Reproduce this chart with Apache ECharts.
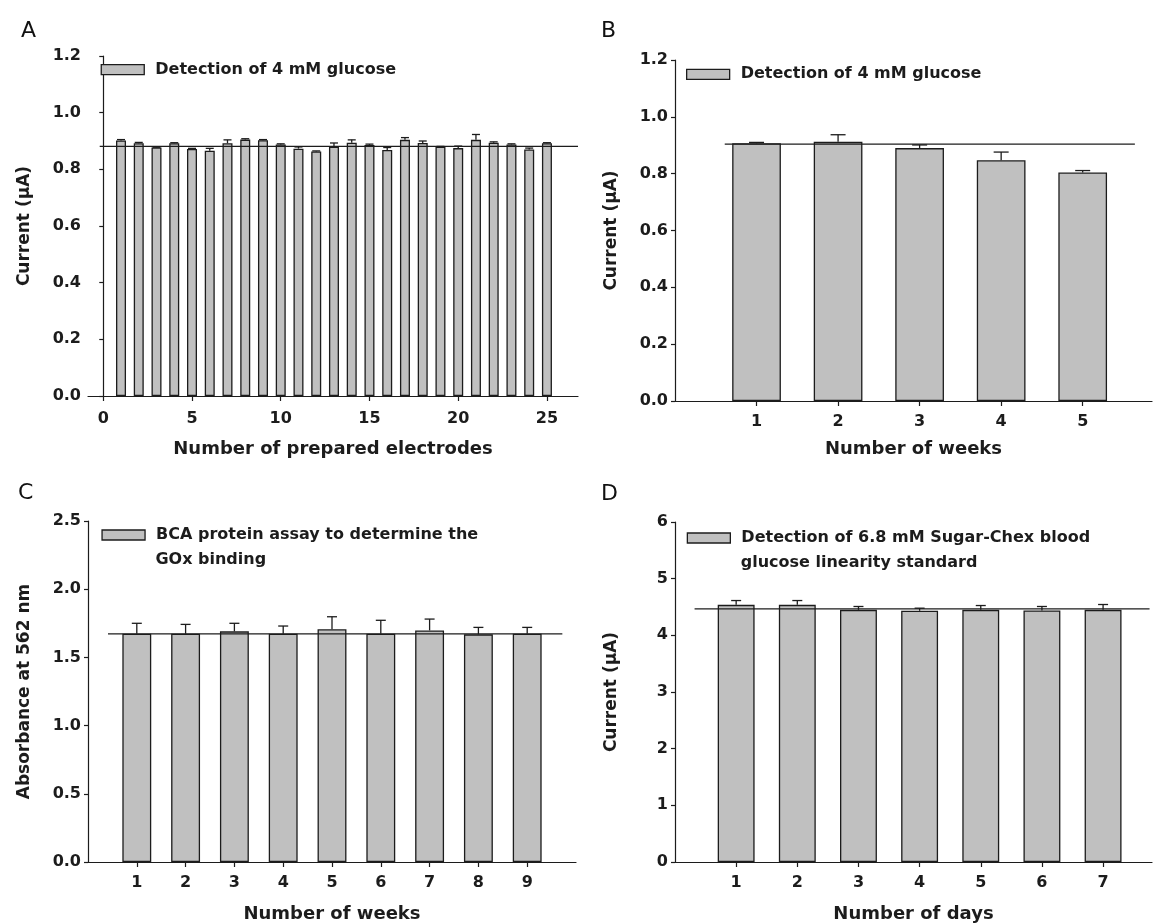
<!DOCTYPE html>
<html>
<head>
<meta charset="utf-8">
<script src="https://cdn.jsdelivr.net/npm/echarts@6/dist/echarts.min.js"></script>
<style>
  html, body { margin: 0; padding: 0; background: #fff; }
  #main { width: 1153px; height: 924px; }
</style>
</head>
<body>
<div id="main"></div>
<script>
// A - reproducibility over prepared electrodes
var electrodes = [1, 2, 3, 4, 5, 6, 7, 8, 9, 10, 11, 12, 13, 14, 15, 16, 17, 18, 19, 20, 21, 22, 23, 24, 25];
var electrodeMean = [0.902, 0.892, 0.877, 0.892, 0.872, 0.866, 0.892, 0.905, 0.903, 0.888, 0.873, 0.863, 0.880,
                     0.894, 0.886, 0.868, 0.904, 0.893, 0.880, 0.875, 0.904, 0.894, 0.888, 0.870, 0.892];
var electrodeErr = [0.003, 0.003, 0.001, 0.002, 0.002, 0.008, 0.012, 0.003, 0.002, 0.002, 0.006, 0.002, 0.013,
                    0.010, 0.003, 0.009, 0.008, 0.007, 0.001, 0.007, 0.019, 0.003, 0.002, 0.005, 0.002];
var electrodeRef = 0.881;
var electrodeTicks = [0, 5, 10, 15, 20, 25];

// B - stability over weeks
var weeks = [1, 2, 3, 4, 5];
var weekMean = [0.907, 0.912, 0.890, 0.847, 0.804];
var weekErr = [0.003, 0.025, 0.011, 0.029, 0.007];
var weekRef = 0.904;

// C - BCA protein assay
var bcaWeeks = [1, 2, 3, 4, 5, 6, 7, 8, 9];
var bcaMean = [1.673, 1.673, 1.691, 1.673, 1.706, 1.673, 1.698, 1.669, 1.673];
var bcaErr = [0.077, 0.069, 0.059, 0.057, 0.092, 0.099, 0.083, 0.051, 0.047];
var bcaRef = 1.673;

// D - Sugar-Chex standard over days
var days = [1, 2, 3, 4, 5, 6, 7];
var dayMean = [4.538, 4.538, 4.450, 4.433, 4.450, 4.439, 4.450];
var dayErr = [0.076, 0.076, 0.059, 0.046, 0.076, 0.070, 0.094];
var dayRef = 4.468;

var FONT = '"DejaVu Sans", sans-serif';
var INK = '#1c1c1c';
var BAR = '#c0c0c0';

var panels = [
  { letter: 'A', lx: 21, ly: 20, grid: { left: 88, top: 56, width: 490, height: 340 },
    xMin: -0.86, xMax: 26.75, ticks: electrodeTicks, x: electrodes, mean: electrodeMean, err: electrodeErr,
    ref: electrodeRef, refFrom: -0.2, refTo: 26.75, barW: 10, cap: 8,
    yMax: 1.2, yStep: 0.2, yDec: 1, xName: 'Number of prepared electrodes', yName: 'Current (μA)',
    xGap: 44, xMargin: 15, legend: ['Detection of 4 mM glucose'], legLeft: 100.6, legTop: 61.6 },
  { letter: 'B', lx: 601, ly: 20, grid: { left: 675, top: 60, width: 477, height: 341 },
    xMin: 0, xMax: 5.85, ticks: weeks, x: weeks, mean: weekMean, err: weekErr,
    ref: weekRef, refFrom: 0.61, refTo: 5.64, barW: 48.7, cap: 15,
    yMax: 1.2, yStep: 0.2, yDec: 1, xName: 'Number of weeks', yName: 'Current (μA)',
    xGap: 39, xMargin: 13, legend: ['Detection of 4 mM glucose'], legLeft: 686, legTop: 66.3 },
  { letter: 'C', lx: 18, ly: 482, grid: { left: 88, top: 521, width: 488, height: 341 },
    xMin: 0, xMax: 10, ticks: bcaWeeks, x: bcaWeeks, mean: bcaMean, err: bcaErr,
    ref: bcaRef, refFrom: 0.41, refTo: 9.72, barW: 28.9, cap: 10,
    yMax: 2.5, yStep: 0.5, yDec: 1, xName: 'Number of weeks', yName: 'Absorbance at 562 nm',
    xGap: 43, xMargin: 13, legend: ['BCA protein assay to determine the', 'GOx binding'], legLeft: 101.4, legTop: 527 },
  { letter: 'D', lx: 601, ly: 483, grid: { left: 675, top: 522, width: 477, height: 342 },
    xMin: 0, xMax: 7.8, ticks: days, x: days, mean: dayMean, err: dayErr,
    ref: dayRef, refFrom: 0.32, refTo: 7.76, barW: 36.9, cap: 10,
    yMax: 6, yStep: 1, yDec: 0, xName: 'Number of days', yName: 'Current (μA)',
    xGap: 43, xMargin: 13, legend: ['Detection of 6.8 mM Sugar-Chex blood', 'glucose linearity standard'], legLeft: 686.7, legTop: 530 }
];

function errorBar(cap) {
  return function (params, api) {
    var x = api.value(0);
    var p0 = api.coord([x, api.value(1)]);
    var p1 = api.coord([x, api.value(2)]);
    var st = { stroke: INK, lineWidth: 1.3 };
    return {
      type: 'group',
      children: [
        { type: 'line', shape: { x1: p0[0], y1: p0[1], x2: p1[0], y2: p1[1] }, style: st },
        { type: 'line', shape: { x1: p1[0] - cap / 2, y1: p1[1], x2: p1[0] + cap / 2, y2: p1[1] }, style: st }
      ]
    };
  };
}

var option = {
  backgroundColor: '#fff',
  animation: false,
  title: [], grid: [], xAxis: [], yAxis: [], legend: [], series: [], graphic: []
};

panels.forEach(function (p, i) {
  var axisLine = { show: true, lineStyle: { color: INK, width: 1.2 } };
  var tick = { show: true, length: 4, lineStyle: { color: INK, width: 1.2 } };
  var labelStyle = { color: INK, fontFamily: FONT, fontWeight: 'bold', fontSize: 16 };

  option.title.push({
    text: p.letter, left: p.lx, top: p.ly, padding: 0,
    textStyle: { fontFamily: FONT, fontWeight: 'normal', fontSize: 22, color: '#111' }
  });
  option.grid.push(p.grid);
  option.xAxis.push({
    type: 'value', gridIndex: i, min: p.xMin, max: p.xMax,
    axisLine: axisLine, splitLine: { show: false },
    axisTick: { show: true, length: 5, lineStyle: { color: INK, width: 1.2 }, customValues: p.ticks },
    axisLabel: Object.assign({ margin: p.xMargin, customValues: p.ticks }, labelStyle),
    name: p.xName, nameLocation: 'middle', nameGap: p.xGap,
    nameTextStyle: { color: INK, fontFamily: FONT, fontWeight: 'bold', fontSize: 18 }
  });
  option.yAxis.push({
    type: 'value', gridIndex: i, min: 0, max: p.yMax, interval: p.yStep,
    axisLine: axisLine, axisTick: tick, splitLine: { show: false },
    axisLabel: Object.assign({ margin: 7, formatter: function (v) { return v.toFixed(p.yDec); } }, labelStyle),
    name: p.yName, nameLocation: 'middle', nameGap: 55,
    nameTextStyle: { color: INK, fontFamily: FONT, fontWeight: 'bold', fontSize: 17 }
  });

  var seriesName = p.legend[0] + (i === 1 ? ' ' : '');
  option.legend.push({
    data: [seriesName], left: p.legLeft, top: p.legTop, padding: 0,
    icon: 'rect', itemWidth: 43, itemHeight: 10,
    itemStyle: { color: BAR, borderColor: INK, borderWidth: 1.3 },
    formatter: function () { return '{t|' + p.legend[0] + '}'; },
    textStyle: { rich: { t: { fontFamily: FONT, fontWeight: 'bold', fontSize: 16, color: INK, padding: [0, 0, 0, 6] } } },
    selectedMode: false
  });
  if (p.legend.length > 1) {
    option.graphic.push({
      type: 'text', left: p.legLeft + 54, top: p.legTop + 25,
      style: { text: p.legend[1], font: 'bold 16px ' + FONT, fill: INK }
    });
  }

  option.series.push({
    name: seriesName, type: 'bar', xAxisIndex: i, yAxisIndex: i, barWidth: p.barW, z: 2,
    itemStyle: { color: BAR, borderColor: INK, borderWidth: 1.3 },
    data: p.x.map(function (x, k) { return [x, p.mean[k]]; })
  });
  option.series.push({
    type: 'line', xAxisIndex: i, yAxisIndex: i, z: 3, symbol: 'none', silent: true,
    lineStyle: { color: INK, width: 1.2 },
    data: [[p.refFrom, p.ref], [p.refTo, p.ref]]
  });
  option.series.push({
    type: 'custom', xAxisIndex: i, yAxisIndex: i, z: 4, silent: true,
    renderItem: errorBar(p.cap),
    encode: { x: 0, y: 2 },
    data: p.x.map(function (x, k) { return [x, p.mean[k], p.mean[k] + p.err[k]]; })
  });
});

var chart = echarts.init(document.getElementById('main'));
chart.setOption(option);
</script>
</body>
</html>
